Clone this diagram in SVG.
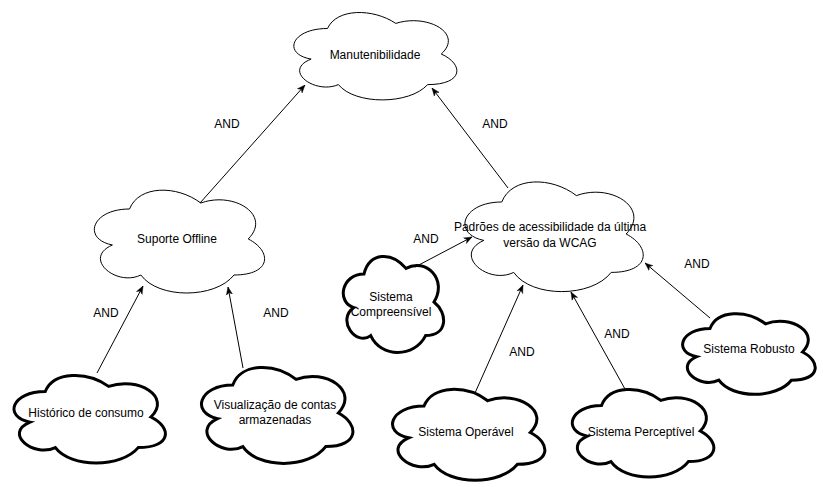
<svg xmlns="http://www.w3.org/2000/svg" width="823" height="487" viewBox="0 0 823 487">
<defs>
<style>
.cloud{fill:#ffffff;stroke:#000000;stroke-width:1}
.thick{stroke-width:3}
.lbl{font-family:"Liberation Sans",Arial,Helvetica,sans-serif;font-size:12px;fill:#000000;text-anchor:middle}
.edge{fill:none;stroke:#000000;stroke-width:1;marker-end:url(#arrow)}
</style>
<marker id="arrow" viewBox="0 0 10 10" refX="10" refY="5" markerWidth="8" markerHeight="8" markerUnits="userSpaceOnUse" orient="auto">
<path d="M0 1 L10 5 L0 9 L3 5 Z" fill="#000000" stroke="#000000" stroke-width="0.5"/>
</marker>
</defs>
<rect width="823" height="487" fill="#ffffff"/>
<g id="node-manutenibilidade">
<path class="cloud" d="M327.5 28.5 C291.1 28.5 282 54 311.12 59.1 C282 70.32 314.76 94.8 338.42 84.6 C354.8 105 409.4 105 427.6 84.6 C464 84.6 464 64.2 441.25 54 C464 33.6 427.6 13.2 395.75 23.4 C373 8.1 336.6 8.1 327.5 28.5 Z"/>
<text class="lbl" x="375" y="59">Manutenibilidade</text>
</g>
<g id="node-suporte-offline">
<path class="cloud" d="M129.5 209 C91.5 209 82 239 112.4 245 C82 258.2 116.2 287 140.9 275 C158 299 215 299 234 275 C272 275 272 251 248.25 239 C272 215 234 191 200.75 203 C177 185 139 185 129.5 209 Z"/>
<text class="lbl" x="177" y="243">Suporte Offline</text>
</g>
<g id="node-padroes">
<path class="cloud" d="M501.75 202 C461.95 202 452 234 483.84 240.4 C452 254.48 487.82 285.2 513.69 272.4 C531.6 298 591.3 298 611.2 272.4 C651 272.4 651 246.8 626.125 234 C651 208.4 611.2 182.8 576.375 195.6 C551.5 176.4 511.7 176.4 501.75 202 Z"/>
<text class="lbl" x="550" y="231">Padrões de acessibilidade da última</text>
<text class="lbl" x="550" y="247">versão da WCAG</text>
</g>
<g id="node-historico">
<path class="cloud thick" d="M45.25 391.5 C11.45 391.5 3 417 30.04 422.1 C3 433.32 33.42 457.8 55.39 447.6 C70.6 468 121.3 468 138.2 447.6 C172 447.6 172 427.2 150.875 417 C172 396.6 138.2 376.2 108.625 386.4 C87.5 371.1 53.7 371.1 45.25 391.5 Z"/>
<text class="lbl" x="86" y="417">Histórico de consumo</text>
</g>
<g id="node-visualizacao">
<path class="cloud thick" d="M232.75 385 C198.95 385 190.5 413 217.54 418.6 C190.5 430.92 220.92 457.8 242.89 446.6 C258.1 469 308.8 469 325.7 446.6 C359.5 446.6 359.5 424.2 338.375 413 C359.5 390.6 325.7 368.2 296.125 379.4 C275 362.6 241.2 362.6 232.75 385 Z"/>
<text class="lbl" x="275" y="409">Visualização de contas</text>
<text class="lbl" x="275" y="424">armazenadas</text>
</g>
<g id="node-compreensivel">
<path class="cloud thick" d="M364 274 C341.6 274 336 302 353.92 307.6 C336 319.92 356.16 346.8 370.72 335.6 C380.8 358 414.4 358 425.6 335.6 C448 335.6 448 313.2 434 302 C448 279.6 425.6 257.2 406 268.4 C392 251.6 369.6 251.6 364 274 Z"/>
<text class="lbl" x="391" y="301">Sistema</text>
<text class="lbl" x="391" y="316">Compreensível</text>
</g>
<g id="node-operavel">
<path class="cloud thick" d="M424 406 C390 406 381.5 432.5 408.7 437.8 C381.5 449.46 412.1 474.9 434.2 464.3 C449.5 485.5 500.5 485.5 517.5 464.3 C551.5 464.3 551.5 443.1 530.25 432.5 C551.5 411.3 517.5 390.1 487.75 400.7 C466.5 384.8 432.5 384.8 424 406 Z"/>
<text class="lbl" x="466" y="436">Sistema Operável</text>
</g>
<g id="node-perceptivel">
<path class="cloud thick" d="M601.5 405.5 C569.9 405.5 562 431 587.28 436.1 C562 447.32 590.44 471.8 610.98 461.6 C625.2 482 672.6 482 688.4 461.6 C720 461.6 720 441.2 700.25 431 C720 410.6 688.4 390.2 660.75 400.4 C641 385.1 609.4 385.1 601.5 405.5 Z"/>
<text class="lbl" x="641" y="436">Sistema Perceptível</text>
</g>
<g id="node-robusto">
<path class="cloud thick" d="M710 328.5 C680.4 328.5 673 352 696.68 356.7 C673 367.04 699.64 389.6 718.88 380.2 C732.2 399 776.6 399 791.4 380.2 C821 380.2 821 361.4 802.5 352 C821 333.2 791.4 314.4 765.5 323.8 C747 309.7 717.4 309.7 710 328.5 Z"/>
<text class="lbl" x="749" y="353">Sistema Robusto</text>
</g>
<g id="connectors">
<line class="edge" x1="200" y1="203" x2="305" y2="85"/>
<line class="edge" x1="508" y1="188" x2="432" y2="88"/>
<line class="edge" x1="415" y1="267" x2="472" y2="237"/>
<line class="edge" x1="475" y1="393" x2="523" y2="285"/>
<line class="edge" x1="625" y1="389" x2="571" y2="292"/>
<line class="edge" x1="710" y1="318" x2="645" y2="263"/>
<line class="edge" x1="97" y1="373" x2="143" y2="286"/>
<line class="edge" x1="243" y1="368" x2="228" y2="287"/>
<text class="lbl" x="227" y="128">AND</text>
<text class="lbl" x="495" y="128">AND</text>
<text class="lbl" x="426" y="243">AND</text>
<text class="lbl" x="106" y="317">AND</text>
<text class="lbl" x="276" y="317">AND</text>
<text class="lbl" x="522" y="356">AND</text>
<text class="lbl" x="617" y="338">AND</text>
<text class="lbl" x="697" y="268">AND</text>
</g>
</svg>
